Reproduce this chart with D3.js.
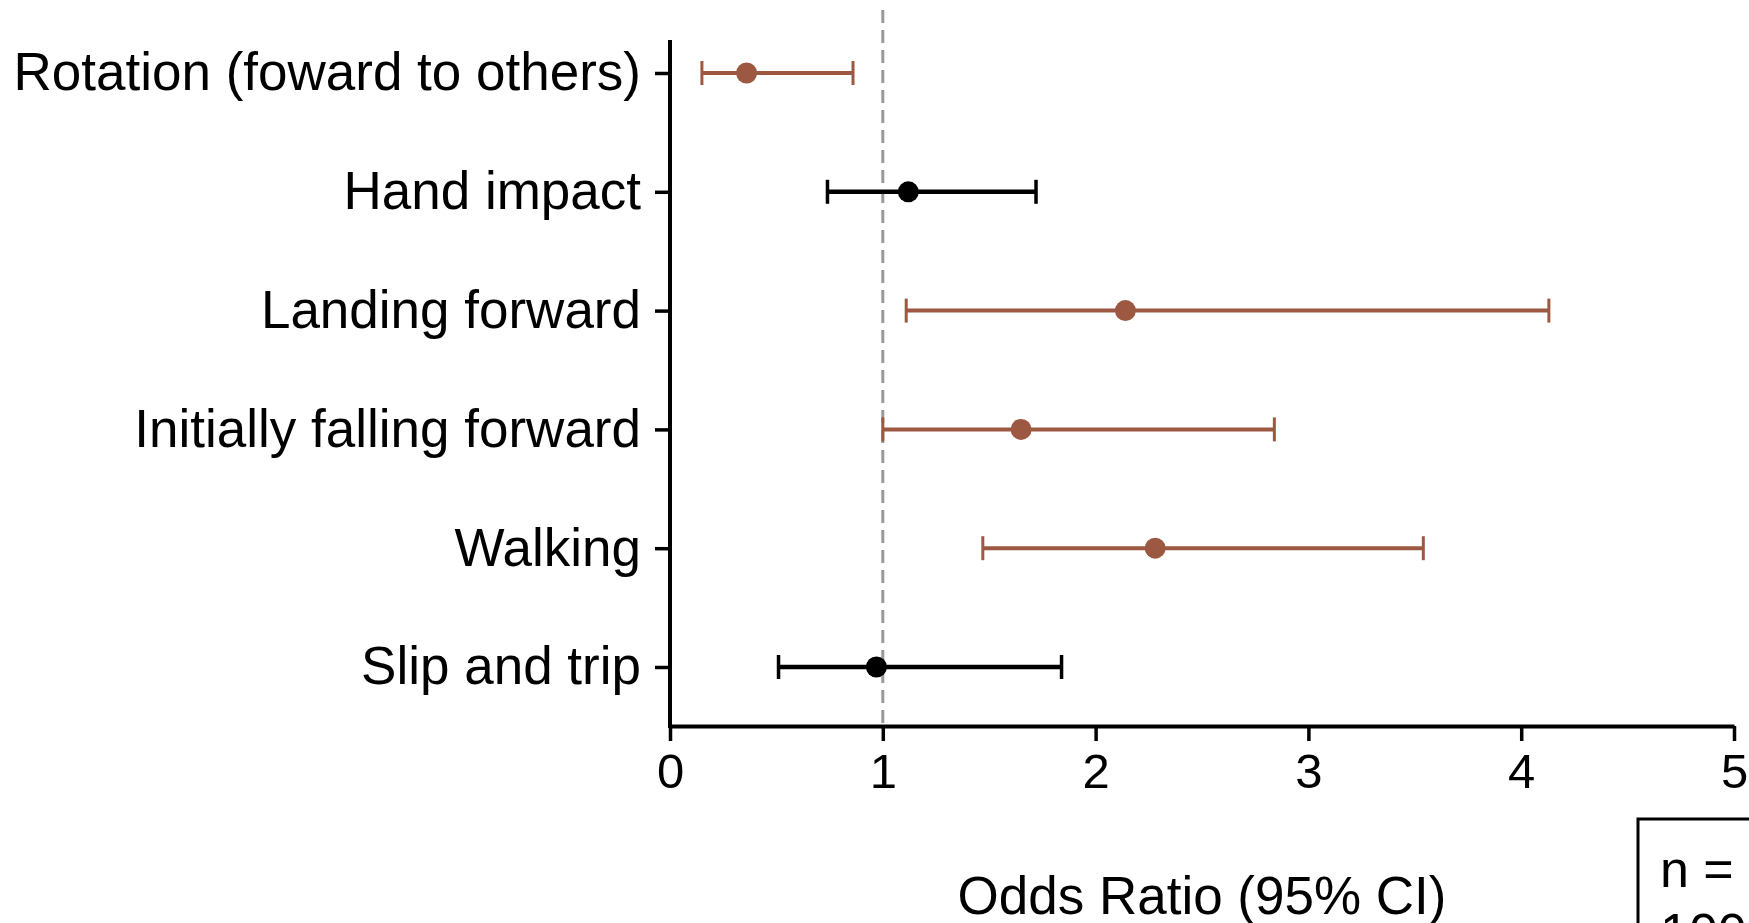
<!DOCTYPE html>
<html>
<head>
<meta charset="utf-8">
<script src="https://cdn.jsdelivr.net/npm/d3@7"></script>
<style>
  body { margin: 0; background: #fff; }
  svg text { font-family: "Liberation Sans", Arial, Helvetica, sans-serif; fill: #000; }
</style>
</head>
<body>
<div id="chart"></div>
<script>
// Odds ratios with 95% CI
const categories = ["Rotation (foward to others)", "Hand impact", "Landing forward",
  "Initially falling forward", "Walking", "Slip and trip"];
const estimates = [0.36, 1.12, 2.14, 1.65, 2.28, 0.97];
const lower = [0.15, 0.74, 1.11, 1.00, 1.47, 0.51];
const upper = [0.86, 1.72, 4.13, 2.84, 3.54, 1.84];
const significant = [true, false, true, true, true, false];
const xTicks = [0, 1, 2, 3, 4, 5];

const width = 1749, height = 923;
const brown = "#9d5842";

const svg = d3.select("#chart").append("svg")
  .attr("width", width)
  .attr("height", height);

const x = d3.scaleLinear().domain([0, 5]).range([670, 1734]);
const y = d3.scalePoint().domain(categories).range([73, 667]);
const axisTop = 40, axisY = 726;

// reference line at OR = 1
svg.append("line")
  .attr("x1", x(1)).attr("x2", x(1))
  .attr("y1", 10).attr("y2", axisY)
  .attr("stroke", "#999")
  .attr("stroke-width", 3)
  .attr("stroke-dasharray", "13,7");

// x axis
const xAxis = svg.append("g")
  .attr("transform", `translate(0,${axisY})`)
  .call(d3.axisBottom(x).tickValues(xTicks).tickFormat(d3.format("d")).tickSize(15).tickSizeOuter(0).tickPadding(12));
xAxis.select(".domain").attr("stroke-width", 4);
xAxis.selectAll(".tick line").attr("stroke-width", 3.5);
xAxis.selectAll(".tick text").attr("font-size", 49).attr("font-family", null);

// y axis
const yAxis = svg.append("g")
  .attr("transform", `translate(${x(0)},0)`)
  .call(d3.axisLeft(y).tickSize(15).tickSizeOuter(0).tickPadding(14));
yAxis.select(".domain").remove();
yAxis.append("line")
  .attr("y1", axisTop).attr("y2", axisY + 2)
  .attr("stroke", "#000").attr("stroke-width", 4);
yAxis.selectAll(".tick line").attr("stroke-width", 3.5);
yAxis.selectAll(".tick text").attr("font-size", 53).attr("font-family", null);

// error bars
const rows = svg.append("g").selectAll("g")
  .data(categories)
  .join("g")
  .attr("stroke", (d, i) => significant[i] ? brown : "#000")
  .attr("fill", (d, i) => significant[i] ? brown : "#000");

rows.append("line")
  .attr("x1", (d, i) => x(lower[i])).attr("x2", (d, i) => x(upper[i]))
  .attr("y1", d => y(d)).attr("y2", d => y(d))
  .attr("stroke-width", (d, i) => significant[i] ? 4 : 4.5);

rows.selectAll(".cap")
  .data((d, i) => [lower[i], upper[i]].map(v => ({ v, c: d, i })))
  .join("line")
  .attr("x1", e => x(e.v)).attr("x2", e => x(e.v))
  .attr("y1", e => y(e.c) - 12).attr("y2", e => y(e.c) + 12)
  .attr("stroke-width", e => significant[e.i] ? 3 : 3.5);

rows.append("circle")
  .attr("cx", (d, i) => x(estimates[i]))
  .attr("cy", d => y(d))
  .attr("r", 10.5)
  .attr("stroke", "none");

// axis title
svg.append("text")
  .attr("x", (x(0) + x(5)) / 2)
  .attr("y", 914)
  .attr("text-anchor", "middle")
  .attr("font-size", 53)
  .text("Odds Ratio (95% CI)");

// sample size box, running off the right edge
svg.append("rect")
  .attr("x", 1638).attr("y", 819)
  .attr("width", 200).attr("height", 200)
  .attr("fill", "none")
  .attr("stroke", "#000")
  .attr("stroke-width", 3);
svg.append("text")
  .attr("x", 1660).attr("y", 887)
  .attr("font-size", 52)
  .text("n =");
svg.append("text")
  .attr("x", 1660).attr("y", 950)
  .attr("font-size", 52)
  .text("100");
</script>
</body>
</html>
